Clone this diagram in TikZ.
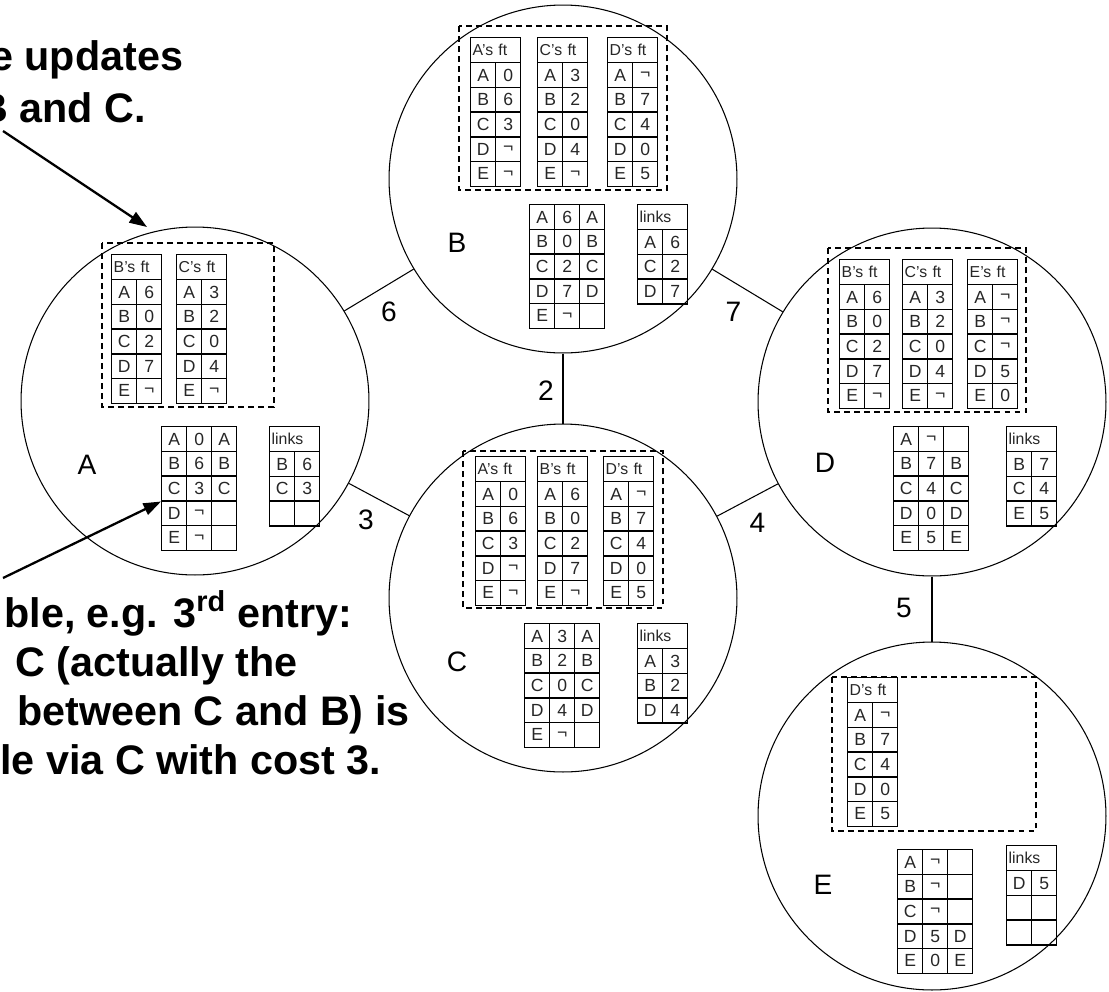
\documentclass[tikz,border=0pt]{standalone}
\usepackage{fontspec}
\setmainfont{Liberation Sans}
\usetikzlibrary{arrows.meta}

% table received from a neighbour: name, x, y, header, rows
\newcommand{\fttab}[5]{%
  \node[headcell] (#1) at (#2,#3) {#4};
  \foreach \k/\v [count=\i] in {#5} {
    \node[cell] (#1-\i-k) at (#2,{#3+25+24.7*(\i-1)}) {\k};
    \node[cell] (#1-\i-v) at ({#2+25},{#3+25+24.7*(\i-1)}) {\v};
  }
}
% own routing table: name, x, y, rows
\newcommand{\rttab}[4]{%
  \foreach \k/\v/\n [count=\i] in {#4} {
    \node[cell] (#1-\i-k) at (#2,{#3+24.7*(\i-1)}) {\k};
    \node[cell] (#1-\i-v) at ({#2+25},{#3+24.7*(\i-1)}) {\v};
    \node[cell] (#1-\i-n) at ({#2+50},{#3+24.7*(\i-1)}) {\n};
  }
}

\begin{document}
\begin{tikzpicture}[
  x=0.02cm, y=-0.02cm,
  every node/.style = {font=\fontsize{10}{10}\selectfont},
  site/.style     = {circle, draw, line width=0.6pt, minimum size=6.96cm, inner sep=0pt},
  sitename/.style = {font=\fontsize{16}{16}\selectfont},
  cell/.style     = {draw, line width=0.8pt, anchor=north west, inner sep=0pt,
                     minimum width=0.5cm, minimum height=0.494cm, text=black!85},
  headcell/.style = {cell, minimum height=0.5cm, text width=0.92cm, inner xsep=0.04cm,
                     align=left, font=\fontsize{9}{9}\selectfont},
  nbrbox/.style   = {draw, line width=0.8pt, dash pattern=on 3.4pt off 2.3pt},
  link/.style     = {line width=0.6pt},
  cost/.style     = {font=\fontsize{16}{16}\selectfont},
  note/.style     = {anchor=base west, inner sep=0pt, font=\bfseries\fontsize{23.5}{28}\selectfont},
  ptr/.style      = {-{Triangle[length=10pt, width=7pt]}, line width=1.3pt},
]
\useasboundingbox (0,0) rectangle (1109,991);

% Sites
\node[site] (A) at (195,401) {};
\node[site] (B) at (563,179) {};
\node[site] (C) at (563,598) {};
\node[site] (D) at (932,402) {};
\node[site] (E) at (932,816) {};

% Links with costs
\draw[link] (A) -- (B) node[cost, midway, shift={(10,22)}] (cAB) {6};
\draw[link] (A) -- (C) node[cost, midway, shift={(-13,20)}] (cAC) {3};
\draw[link] (B) -- (C) node[cost, midway, shift={(-17,2)}] (cBC) {2};
\draw[link] (B) -- (D) node[cost, midway, shift={(-14,21)}] (cBD) {7};
\draw[link] (C) -- (D) node[cost, midway, shift={(10,23)}] (cCD) {4};
\draw[link] (D) -- (E) node[cost, midway, shift={(-28,-1)}] (cDE) {5};

% Site A
\node[sitename] (A-name) at (87,465) {A};
\draw[nbrbox] (102,243) rectangle (274,407);
\fttab{a-bft}{111}{254}{B's ft}{A/6, B/0, C/2, D/7, E/¬}
\fttab{a-cft}{176}{254}{C's ft}{A/3, B/2, C/0, D/4, E/¬}
\rttab{a-rt}{161}{426}{A/0/A, B/6/B, C/3/C, D/¬/{}, E/¬/{}}
\fttab{a-lk}{269}{426}{links}{B/6, C/3, {}/{}}

% Site B
\node[sitename] (B-name) at (457,243) {B};
\draw[nbrbox] (459,26) rectangle (667,190);
\fttab{b-aft}{470}{37}{A's ft}{A/0, B/6, C/3, D/¬, E/¬}
\fttab{b-cft}{537}{37}{C's ft}{A/3, B/2, C/0, D/4, E/¬}
\fttab{b-dft}{607}{37}{D's ft}{A/¬, B/7, C/4, D/0, E/5}
\rttab{b-rt}{529}{204}{A/6/A, B/0/B, C/2/C, D/7/D, E/¬/{}}
\fttab{b-lk}{637}{204}{links}{A/6, C/2, D/7}

% Site C
\node[sitename] (C-name) at (457,662) {C};
\draw[nbrbox] (463,451) rectangle (663,608);
\fttab{c-aft}{475}{456}{A's ft}{A/0, B/6, C/3, D/¬, E/¬}
\fttab{c-bft}{537}{456}{B's ft}{A/6, B/0, C/2, D/7, E/¬}
\fttab{c-dft}{603}{456}{D's ft}{A/¬, B/7, C/4, D/0, E/5}
\rttab{c-rt}{524}{623}{A/3/A, B/2/B, C/0/C, D/4/D, E/¬/{}}
\fttab{c-lk}{637}{623}{links}{A/3, B/2, D/4}

% Site D
\node[sitename] (D-name) at (825,463) {D};
\draw[nbrbox] (828,248) rectangle (1026,412);
\fttab{d-bft}{839}{259}{B's ft}{A/6, B/0, C/2, D/7, E/¬}
\fttab{d-cft}{902}{259}{C's ft}{A/3, B/2, C/0, D/4, E/¬}
\fttab{d-eft}{967}{259}{E's ft}{A/¬, B/¬, C/¬, D/5, E/0}
\rttab{d-rt}{893}{426}{A/¬/{}, B/7/B, C/4/C, D/0/D, E/5/E}
\fttab{d-lk}{1006}{426}{links}{B/7, C/4, E/5}

% Site E
\node[sitename] (E-name) at (823,885) {E};
\draw[nbrbox] (832,677) rectangle (1036,831);
\fttab{e-dft}{847}{677}{D's ft}{A/¬, B/7, C/4, D/0, E/5}
\rttab{e-rt}{897}{849}{A/¬/{}, B/¬/{}, C/¬/{}, D/5/D, E/0/E}
\fttab{e-lk}{1006}{845}{links}{D/5, {}/{}, {}/{}}

% Notes
\node[note] (upd1) at (-10,70) {e updates};
\node[note] (upd2) at (-22,122) {B and C.};
\node[note] (ex1) at (4,627) {ble, e.g. 3\textsuperscript{rd} entry:};
\node[note] (ex2) at (15,676) {C (actually the};
\node[note] (ex3) at (17,725) {between C and B) is};
\node[note] (ex4) at (0,774) {le via C with cost 3.};

% Pointers
\coordinate (updfrom) at (3,131);
\coordinate (updto) at (147,227);
\coordinate (exfrom) at (3,578);
\draw[ptr] (updfrom) -- (updto);
\draw[ptr] (exfrom) -- (a-rt-3-k.south west);

\end{tikzpicture}
\end{document}
